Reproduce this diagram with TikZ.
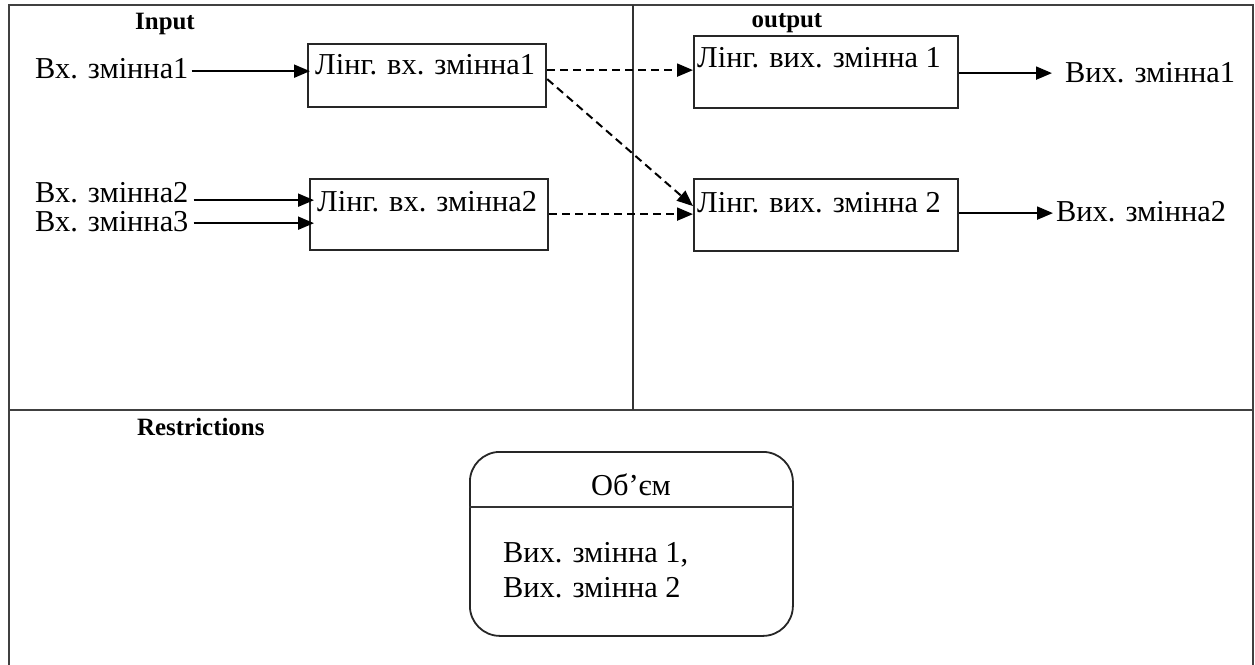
\documentclass[tikz,border=0pt]{standalone}
\usepackage{fontspec}
\setmainfont{Liberation Serif}
\usetikzlibrary{arrows.meta}

\tikzset{
  txt/.style={inner sep=0pt, font=\fontsize{30.5}{36}\selectfont},
  head/.style={inner sep=0pt, font=\fontsize{25}{30}\selectfont\bfseries},
  boxnode/.style={draw=black!85, line width=2.2bp, inner sep=0pt, anchor=north west},
  frame/.style={draw=black!75, line width=1.7bp},
  solidarrow/.style={line width=2bp, -{Triangle[length=16bp,width=13bp]}},
  dasharrow/.style={line width=2bp, dash pattern=on 8bp off 5bp, -{Triangle[length=16bp,width=13bp]}},
}

\begin{document}
\begin{tikzpicture}[x=1bp, y=-1bp]
\useasboundingbox (0,0) rectangle (1255,665);

% outer frame and section dividers
\draw[frame] (9,665) -- (9,5) -- (1253,5) -- (1253,665);
\draw[frame] (9,410) -- (1253,410);
\draw[draw=black!80, line width=1.2bp] (633,5) -- (633,410);

% section headings
\node[head, anchor=base] (hin) at (165,30) {Input};
\node[head, anchor=base] (hout) at (787,28) {output};
\node[head, anchor=base west] (hres) at (137,435) {Restrictions};

% linguistic variable boxes
\node[boxnode, minimum width=238bp, minimum height=63bp] (b1) at (307,43) {};
\node[boxnode, minimum width=238bp, minimum height=71bp] (b2) at (309,178) {};
\node[boxnode, minimum width=264bp, minimum height=72bp] (ob1) at (693,35) {};
\node[boxnode, minimum width=264bp, minimum height=72bp] (ob2) at (693,178) {};

\node[txt, anchor=base west] (tb1) at (315,75) {Лінг. вх. змінна1};
\node[txt, anchor=base west] (tb2) at (317,212) {Лінг. вх. змінна2};
\node[txt, anchor=base west] (tob1) at (697,68) {Лінг. вих. змінна 1};
\node[txt, anchor=base west] (tob2) at (697,213) {Лінг. вих. змінна 2};

% input variables
\node[txt, anchor=base west] (in1) at (35,79) {Вх. змінна1};
\node[txt, anchor=base west] (in2) at (35,203) {Вх. змінна2};
\node[txt, anchor=base west] (in3) at (35,232) {Вх. змінна3};

% output variables
\node[txt, anchor=base west] (out1) at (1065,83) {Вих. змінна1};
\node[txt, anchor=base west] (out2) at (1056,222) {Вих. змінна2};

% input connectors
\draw[solidarrow] ([xshift=3bp,yshift=-2bp]in1.east) -- ([xshift=3bp,yshift=-2bp]in1.east -| b1.west);
\draw[solidarrow] ([xshift=5bp,yshift=-7bp]in2.east) -- ([xshift=5bp,yshift=-7bp]in2.east -| b2.west);
\draw[solidarrow] ([xshift=5bp,yshift=-1bp]in3.east) -- ([xshift=5bp,yshift=-1bp]in3.east -| b2.west);

% fuzzy mapping between input and output terms
\draw[dasharrow] ([yshift=5.5bp]b1.east) -- ([yshift=5.5bp]b1.east -| ob1.west);
\draw[dasharrow] ([yshift=-3.5bp]b1.east) -- ([yshift=9bp]ob2.west);
\draw[dasharrow] ([yshift=0.5bp]b2.east) -- ([yshift=0.5bp]b2.east -| ob2.west);

% output connectors
\draw[solidarrow] ([yshift=-1bp]ob1.east) -- ([yshift=-1bp,xshift=-13bp]ob1.east -| out1.west);
\draw[solidarrow] ([yshift=2bp]ob2.east) -- ([yshift=2bp,xshift=-3bp]ob2.east -| out2.west);

% restriction block
\node[draw=black!85, line width=1.8bp, rounded corners=30bp, minimum width=323bp, minimum height=184bp, inner sep=0pt, anchor=north west] (vol) at (469,451) {};
\draw[draw=black!80, line width=1.8bp] (vol.west |- 0,507) -- (vol.east |- 0,507);
\node[txt, anchor=base] (voltitle) at (631,495) {Об’єм};
\node[txt, anchor=base west] (volbody) at (503,562) {Вих. змінна 1,};
\node[txt, anchor=base west] (volbody2) at (503,597) {Вих. змінна 2};
\end{tikzpicture}
\end{document}
